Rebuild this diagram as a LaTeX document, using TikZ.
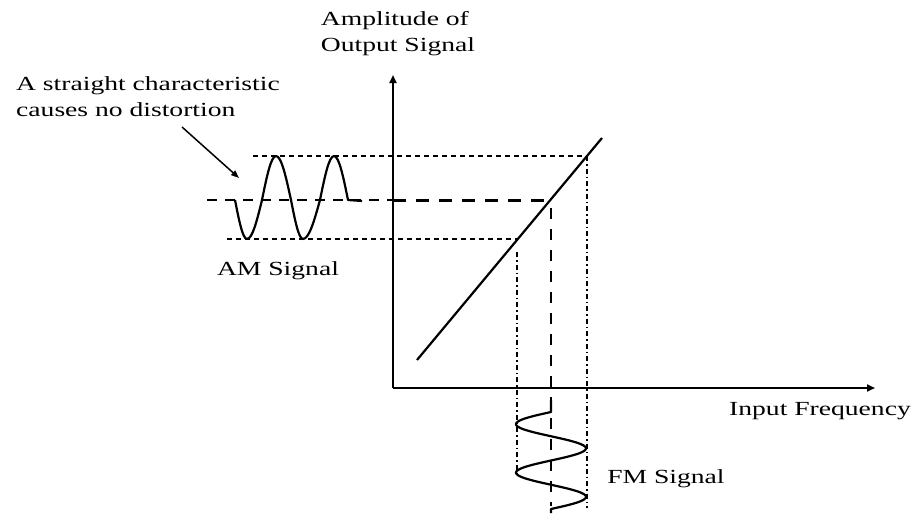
\documentclass[tikz,border=0pt]{standalone}
\usepackage{fontspec}
\setmainfont{Liberation Serif}[FakeStretch=1.38]
\usetikzlibrary{arrows.meta}
\tikzset{
  lbl/.style={inner sep=0pt, align=left, font=\fontsize{20pt}{26pt}\selectfont},
  axisline/.style={line width=2pt, -{Triangle[length=8pt,width=7pt]}},
  curve/.style={line width=2.2pt, line join=round},
  guide/.style={line width=1.5pt, dash pattern=on 5pt off 4pt},
  guidelong/.style={line width=1.5pt, dash pattern=on 10pt off 8pt},
  guidethick/.style={line width=3pt, dash pattern=on 13pt off 10pt},
  guidemid/.style={line width=2.2pt, dash pattern=on 11pt off 10pt},
  guidedot/.style={line width=1.5pt, dash pattern=on 5pt off 3pt on 1.5pt off 3pt},
}
\begin{document}
\begin{tikzpicture}[x=1pt,y=-1pt]
\useasboundingbox[fill=white] (0,0) rectangle (922,514);
% key points
\coordinate (O) at (393,388);
\coordinate (Ytop) at (393,75);
\coordinate (Xend) at (875,388);
\coordinate (D1) at (417,360);
\coordinate (D2) at (602,138);
\coordinate (P1) at (587,156);
\coordinate (P2) at (551,200);
\coordinate (P3) at (517,239);
\coordinate (Ttop) at (253,156);
\coordinate (Mleft) at (207,200);
\coordinate (Maxis) at (393,200);
\coordinate (Bleft) at (227,239);
\coordinate (Lv1) at (517,252);
\coordinate (Lv2) at (517,476);
\coordinate (Mv1) at (551,208);
\coordinate (Mv2) at (551,506);
\coordinate (Rv2) at (587,508);
\coordinate (arrTail) at (182,127);
\coordinate (arrTip) at (239,178);
\coordinate (fmTop) at (551,400);
\coordinate (fmStart) at (551,412);
% axes
\draw[axisline] (O) -- (Ytop);
\draw[axisline] (O) -- (Xend);
% characteristic
\draw[curve] (D1) -- (D2);
% guide lines
\draw[guide] (Ttop) -- (P1);
\draw[guidelong] (Mleft) -- (Maxis);
\draw[guidethick] (Maxis) -- (P2);
\draw[guide] (Bleft) -- (P3);
\draw[guidedot] (Lv1) -- (Lv2);
\draw[guidemid] (Mv1) -- (Mv2);
\draw[guidedot] (P1) -- (Rv2);
% AM signal
\draw[curve] (235,200) sin (247,239) cos (262,200) sin (276,156) cos (291,200)
  sin (303,239) cos (320,200) sin (334,156) cos (348,200) -- (362,201);
% FM signal
\draw[curve] (fmTop) -- (fmStart)
  -- plot[domain=0:97, samples=120, variable=\t] ({551-35*sin(\t*7.4227)}, {412+\t})
  -- (551,513);
% labels
\node[lbl, anchor=center] (note) at (148,97) {A straight characteristic\\causes no distortion};
\draw[line width=1.5pt, -{Triangle[length=8pt,width=6pt]}] (arrTail) -- (arrTip);
\node[lbl, anchor=center] (ylab) at (398,34) {Amplitude of\\Output Signal};
\node[lbl, anchor=center] (xlab) at (820,411) {Input Frequency};
\node[lbl, anchor=center] (am) at (278,271) {AM Signal};
\node[lbl, anchor=center] (fm) at (666,479) {FM Signal};
\end{tikzpicture}
\end{document}
